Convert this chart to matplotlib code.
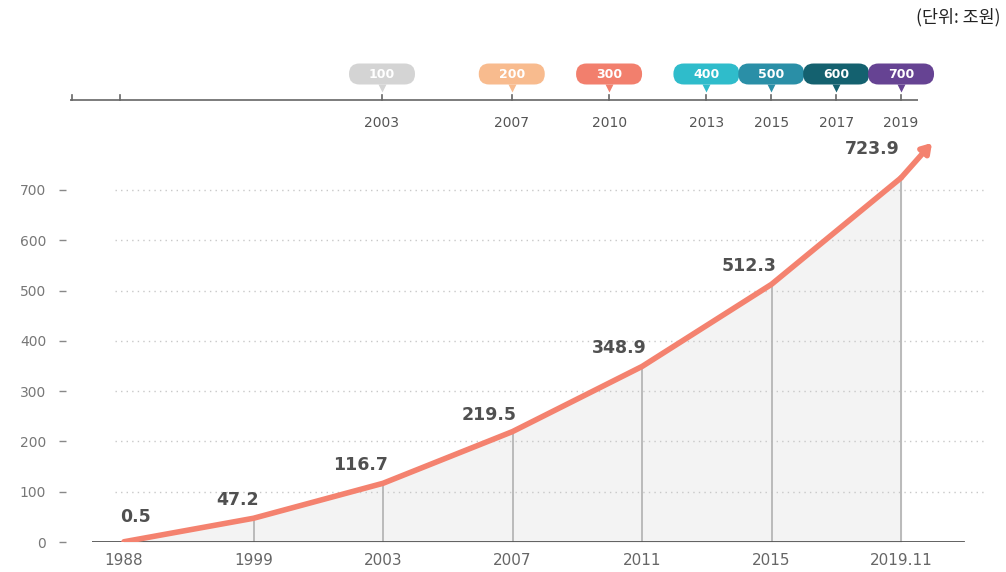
import numpy as np
import matplotlib
matplotlib.use('Agg')
import matplotlib.pyplot as plt
from matplotlib.patches import FancyBboxPatch
from matplotlib.transforms import ScaledTranslation

plt.rcParams['font.family'] = ['DejaVu Sans', 'Noto Sans CJK KR']

# main series
years = ['1988', '1999', '2003', '2007', '2011', '2015', '2019.11']
values = [0.5, 47.2, 116.7, 219.5, 348.9, 512.3, 723.9]
yticks = [0, 100, 200, 300, 400, 500, 600, 700]

# milestone timeline on top
ms_years = [2003, 2007, 2010, 2013, 2015, 2017, 2019]
ms_labels = ['100', '200', '300', '400', '500', '600', '700']
ms_colors = ['#d4d4d4', '#f8bb8e', '#f27f6d', '#2fbccb', '#2a8fa7', '#14616f', '#664393']

line_color = '#f4826f'

fig = plt.figure(figsize=(10.06, 5.72), dpi=100)
W, H = 1006, 572

# ---- main chart ----
ax = fig.add_axes([92 / W, (572 - 542) / H, 893 / W, (542 - 135) / H])
x = np.arange(len(years))
step = 129.5
ax.set_xlim(-(124 - 92) / step, (985 - 124) / step)
ax.set_ylim(0, (542 - 135) / 0.503)

for v in yticks[1:]:
    ax.axhline(v, xmin=0.026, xmax=1, color='#c8c8c8', lw=1, ls=(0, (1, 3)), zorder=1)
ax.axhline(0, xmin=0, xmax=0.976, color='#555555', lw=1.3, zorder=4)

ax.fill_between(x, values, 0, color='#f3f3f3', zorder=0)
ax.vlines(x, 0, values, color='#b5b5b5', lw=1.3, zorder=2)
ax.plot(x, values, color=line_color, lw=4, solid_capstyle='round',
        solid_joinstyle='round', zorder=5)
# arrow head continuing past the last point
tip = ax.transData + ScaledTranslation(31 / 100, 35 / 100, fig.dpi_scale_trans)
ax.annotate('', xy=(x[-1], values[-1]), xycoords=tip,
            xytext=(x[-1], values[-1]), textcoords='data',
            arrowprops=dict(arrowstyle='-|>,head_length=0.55,head_width=0.35',
                            lw=4, color=line_color, shrinkA=0, shrinkB=0),
            zorder=5)

label_off = [(-4, 16, 'left'), (5, 9, 'right'), (5, 9, 'right'), (4, 8, 'right'),
             (5, 10, 'right'), (5, 9, 'right'), (-1, 20, 'right')]
for xi, v, (dx, dy, ha) in zip(x, values, label_off):
    ax.annotate(f'{v}', (xi, v), xytext=(dx, dy), textcoords='offset pixels',
                ha=ha, va='bottom', fontsize=12.5, fontweight='bold', color='#505050',
                zorder=6)

for s in ax.spines.values():
    s.set_visible(False)
ax.spines['left'].set_position(('outward', 19))
ax.set_xticks(x)
ax.set_xticklabels(years, fontsize=11, color='#666666')
ax.tick_params(axis='x', length=0, pad=8)
ax.set_yticks(yticks)
ax.set_yticklabels([str(t) for t in yticks], fontsize=10, color='#777777')
ax.tick_params(axis='y', direction='out', length=5, width=1, color='#888888', pad=9)

# ---- timeline ----
tax = fig.add_axes([70 / W, (572 - 135) / H, 848 / W, 80 / H])
ppy = 32.44  # pixels per year
x0 = 2003 - (382 - 70) / ppy
tax.set_xlim(x0, x0 + 848 / ppy)
tax.set_ylim(0, 1)
tax.axis('off')
yl = 35 / 80
tax.axhline(yl, color='#666666', lw=1.2)
for t in [x0 + 0.05, x0 + 50 / ppy]:
    tax.plot([t, t], [yl, yl + 0.06], color='#666666', lw=1.2)

bw, bh = 66 / ppy, 21 / 80
by = (135 - 74) / 80
for yr, lab, c in zip(ms_years, ms_labels, ms_colors):
    tax.plot([yr, yr], [yl, yl + 0.06], color='#666666', lw=1.2)
    tax.text(yr, yl - 23 / 80, str(yr), ha='center', va='center', fontsize=10,
             color='#555555')
    box = FancyBboxPatch((yr - bw / 2, by - bh / 2), bw, bh,
                         boxstyle='round,pad=0,rounding_size=0.32',
                         mutation_aspect=(1 / 80) / (1 / ppy),
                         fc=c, ec='none', clip_on=False)
    tax.add_patch(box)
    tax.plot(yr, by - bh / 2 - 0.04, marker='v', ms=6, color=c, mec='none',
             clip_on=False)
    tax.text(yr, by, lab, ha='center', va='center', fontsize=9,
             fontweight='bold', color='white', clip_on=False)

fig.text(1000 / W, 1 - 17 / H, '(단위: 조원)', ha='right', va='center',
         fontsize=12.5, color='#222222', family=['Noto Sans CJK KR', 'DejaVu Sans'])

fig.savefig('out.png', dpi=100)
